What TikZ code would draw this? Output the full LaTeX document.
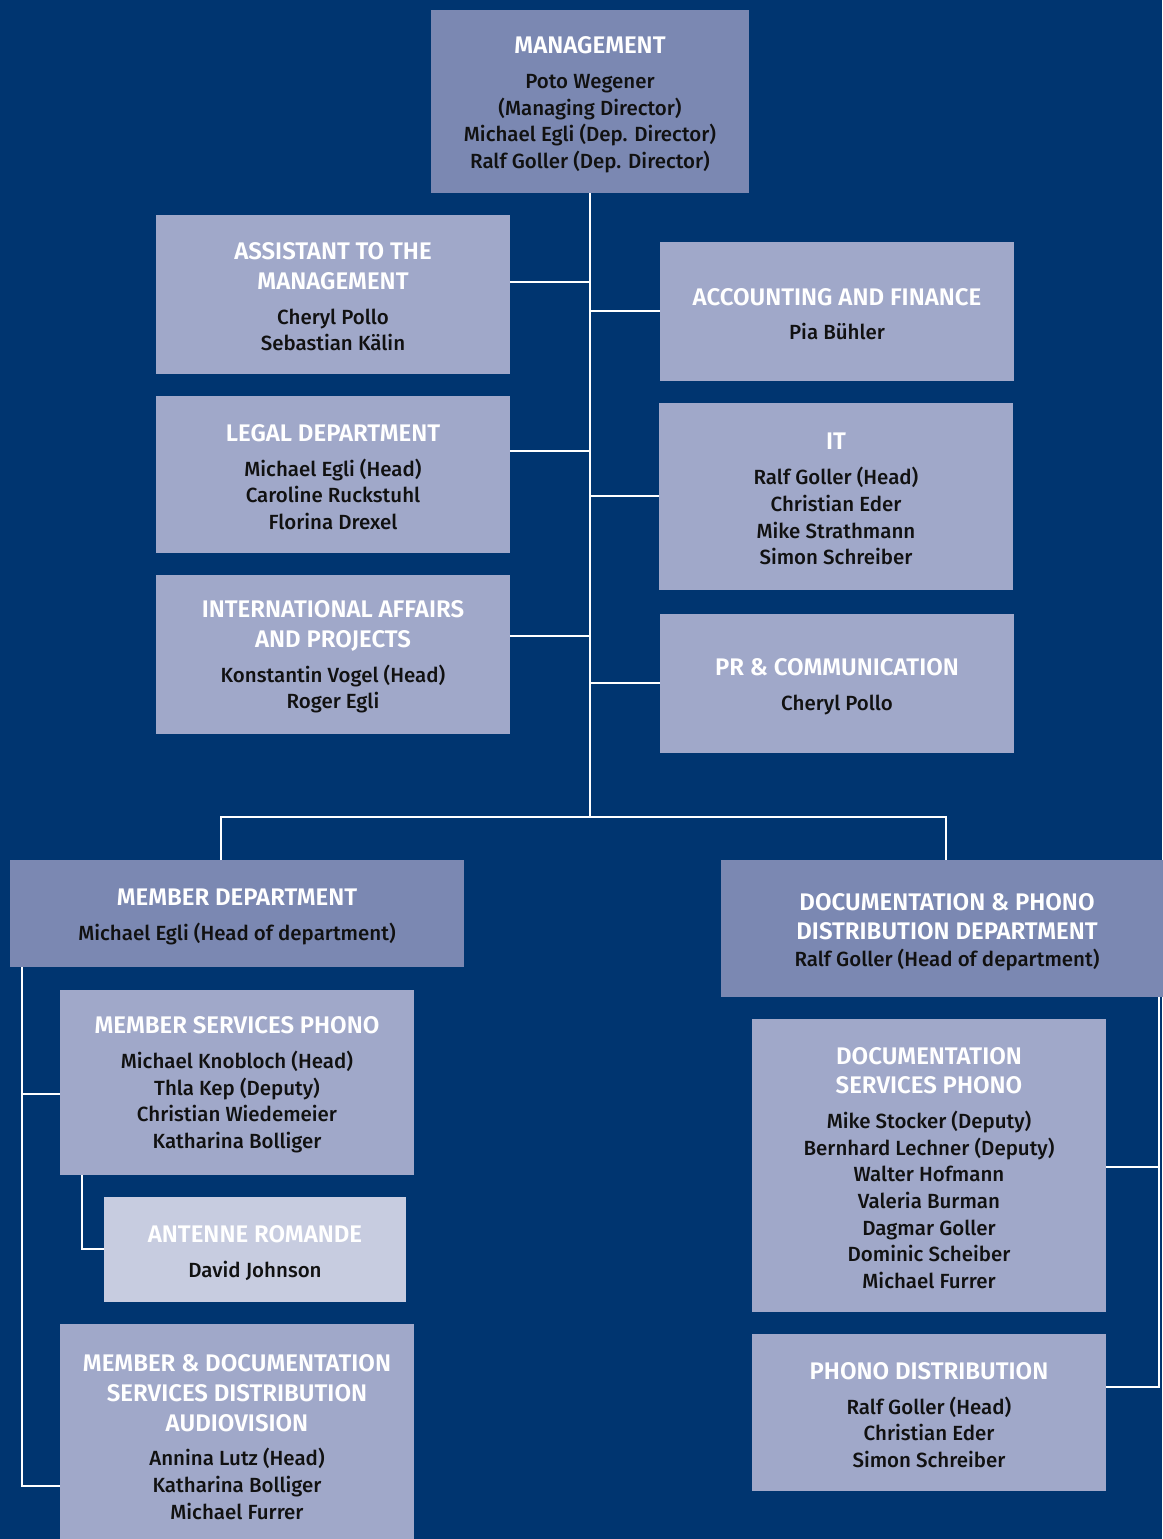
\documentclass[tikz,border=0pt]{standalone}
\usepackage{fontspec}
\setmainfont{Fira Sans}[UprightFont=* Medium, BoldFont=* SemiBold]
\usetikzlibrary{calc}
\definecolor{bg}{HTML}{003570}
\definecolor{darkbox}{HTML}{7B88B2}
\definecolor{lightbox}{HTML}{A0A8C9}
\definecolor{palebox}{HTML}{C7CCE0}
\definecolor{txt}{HTML}{111111}
\newcommand\hdline[1]{{\color{white}\bfseries\fontsize{24}{27}\selectfont #1}}
\newcommand\tpa{\rule{0pt}{22pt}}
\newcommand\tpb{\rule{0pt}{24pt}}
\tikzset{
  box/.style={fill=lightbox, inner sep=0pt, align=center, text=txt,
    font=\fontsize{20.5}{26.7}\selectfont},
  deptbox/.style={box, fill=darkbox},
  palestyle/.style={box, fill=palebox},
  conn/.style={draw=white, line width=2pt},
}
\begin{document}
\begin{tikzpicture}[x=1pt, y=-1pt]
\fill[bg] (0,0) rectangle (1162,1539);
\useasboundingbox (0,0) rectangle (1162,1539);

\node[deptbox, minimum width=318, minimum height=183] (mgmt) at (590,101.5)
  {\tpb\hdline{MANAGEMENT}\\[8pt]Poto Wegener\\(Managing Director)\\Michael Egli (Dep. Director)\\Ralf Goller (Dep. Director)};

\node[box, minimum width=354, minimum height=159] (asst) at (333,294.5)
  {\tpa\hdline{ASSISTANT TO THE}\\[3pt]\hdline{MANAGEMENT}\\[8pt]Cheryl Pollo\\Sebastian Kälin};
\node[box, minimum width=354, minimum height=157] (legal) at (333,474.5)
  {\tpa\hdline{LEGAL DEPARTMENT}\\[8pt]Michael Egli (Head)\\Caroline Ruckstuhl\\Florina Drexel};
\node[box, minimum width=354, minimum height=159] (intl) at (333,654.5)
  {\tpa\hdline{INTERNATIONAL AFFAIRS}\\[3pt]\hdline{AND PROJECTS}\\[8pt]Konstantin Vogel (Head)\\Roger Egli};

\node[box, minimum width=354, minimum height=139] (acct) at (837,311.5)
  {\tpa\hdline{ACCOUNTING AND FINANCE}\\[8pt]Pia Bühler};
\node[box, minimum width=354, minimum height=187] (it) at (836,496.5)
  {\tpa\hdline{IT}\\[8pt]Ralf Goller (Head)\\Christian Eder\\Mike Strathmann\\Simon Schreiber};
\node[box, minimum width=354, minimum height=139] (pr) at (837,683.5)
  {\tpb\hdline{PR \& COMMUNICATION}\\[8pt]Cheryl Pollo};

\node[deptbox, minimum width=454, minimum height=107] (memdept) at (237,913.5)
  {\tpb\hdline{MEMBER DEPARTMENT}\\[8pt]Michael Egli (Head of department)};
\node[deptbox, minimum width=452, minimum height=137] (docdept) at (947,928.5)
  {\tpb\hdline{DOCUMENTATION \& PHONO}\\[3pt]\hdline{DISTRIBUTION DEPARTMENT}\\Ralf Goller (Head of department)};

\node[box, minimum width=354, minimum height=185] (msp) at (237,1082.5)
  {\tpa\hdline{MEMBER SERVICES PHONO}\\[8pt]Michael Knobloch (Head)\\Thla Kep (Deputy)\\Christian Wiedemeier\\Katharina Bolliger};
\node[palestyle, minimum width=302, minimum height=105] (antenne) at (255,1249.5)
  {\tpb\hdline{ANTENNE ROMANDE}\\[8pt]David Johnson};
\node[box, minimum width=354, minimum height=226] (av) at (237,1437)
  {\hdline{MEMBER \& DOCUMENTATION}\\[3pt]\hdline{SERVICES DISTRIBUTION}\\[3pt]\hdline{AUDIOVISION}\\[8pt]Annina Lutz (Head)\\Katharina Bolliger\\Michael Furrer};

\node[box, minimum width=354, minimum height=293] (dsp) at (929,1165.5)
  {\tpa\hdline{DOCUMENTATION}\\[3pt]\hdline{SERVICES PHONO}\\[8pt]Mike Stocker (Deputy)\\Bernhard Lechner (Deputy)\\Walter Hofmann\\Valeria Burman\\Dagmar Goller\\Dominic Scheiber\\Michael Furrer};
\node[box, minimum width=354, minimum height=157] (pd) at (929,1412.5)
  {\tpa\hdline{PHONO DISTRIBUTION}\\[8pt]Ralf Goller (Head)\\Christian Eder\\Simon Schreiber};

% junction coordinates
\coordinate (trunk) at (590,817);
\coordinate (jasst) at (590,282);
\coordinate (jlegal) at (590,451);
\coordinate (jintl) at (590,636);
\coordinate (jacct) at (590,311);
\coordinate (jit) at (590,496);
\coordinate (jpr) at (590,683);
\coordinate (tl) at (221,817);
\coordinate (tr) at (946,817);
\coordinate (mspine) at (22,967);
\coordinate (jmsp) at (22,1094);
\coordinate (jav) at (22,1486);
\coordinate (aspine) at (82,1175);
\coordinate (jant) at (82,1249);
\coordinate (dspine) at (1159,997);
\coordinate (jdsp) at (1159,1167);
\coordinate (jpd) at (1159,1387);

\draw[conn] (mgmt.south) -- (trunk);
\draw[conn] (jasst -| asst.east) -- (jasst);
\draw[conn] (jlegal -| legal.east) -- (jlegal);
\draw[conn] (jintl -| intl.east) -- (jintl);
\draw[conn] (jacct) -- (jacct -| acct.west);
\draw[conn] (jit) -- (jit -| it.west);
\draw[conn] (jpr) -- (jpr -| pr.west);
\draw[conn] (tl |- memdept.north) -- (tl) -- (tr) -- (tr |- docdept.north);

\draw[conn] (mspine |- memdept.south) -- (jav) -- (jav -| av.west);
\draw[conn] (jmsp) -- (jmsp -| msp.west);
\draw[conn] (aspine |- msp.south) -- (jant) -- (jant -| antenne.west);

\draw[conn] (dspine |- docdept.south) -- (jpd) -- (jpd -| pd.east);
\draw[conn] (jdsp) -- (jdsp -| dsp.east);
\end{tikzpicture}
\end{document}
